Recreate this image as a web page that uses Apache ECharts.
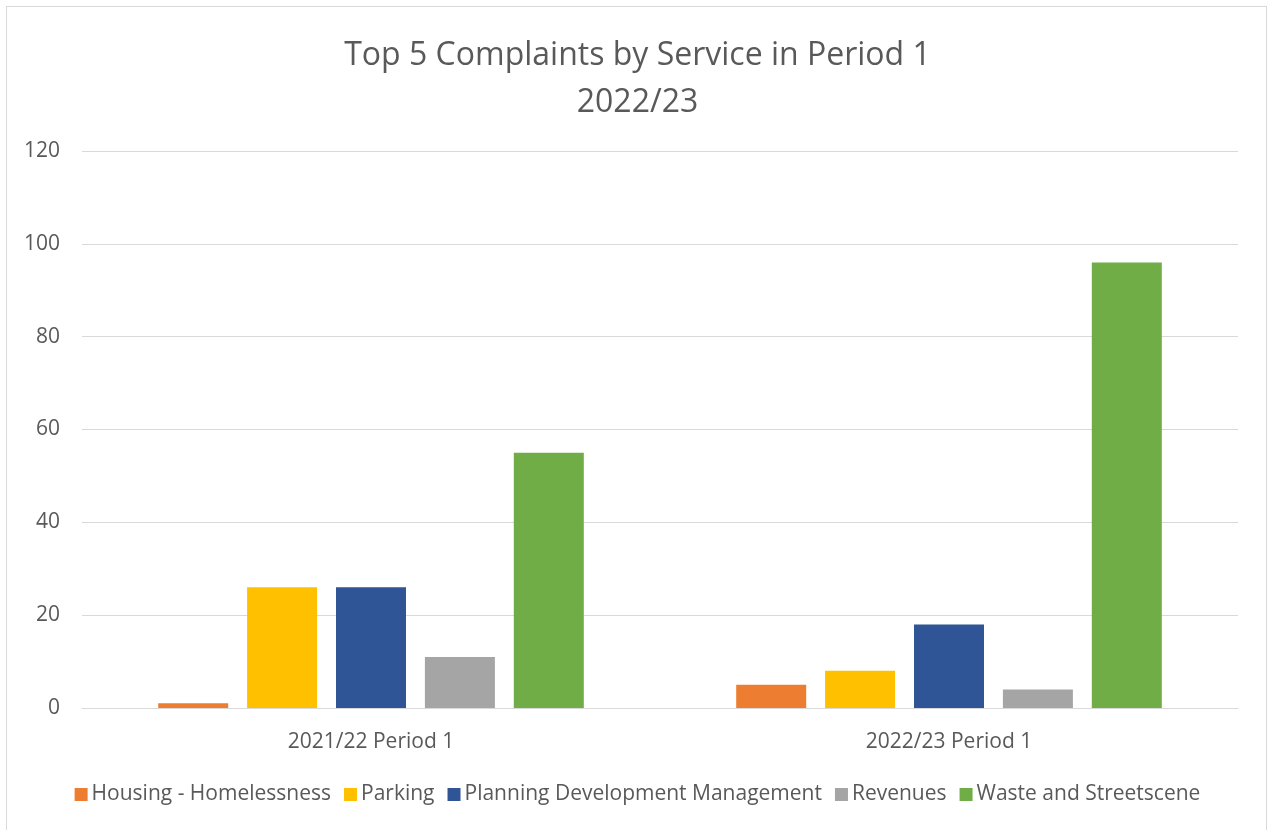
<!DOCTYPE html>
<html>
<head>
<meta charset="utf-8">
<script src="https://cdn.jsdelivr.net/npm/echarts@6/dist/echarts.min.js"></script>
<style>
  html, body { margin: 0; padding: 0; background: #fff; }
  #frame { position: absolute; left: 6px; top: 6px; width: 1261px; height: 830px; border: 1px solid #d9d9d9; box-sizing: border-box; }
  #chart { position: absolute; left: 0; top: 0; width: 1275px; height: 830px; }
</style>
</head>
<body>
<div id="frame"></div>
<div id="chart"></div>
<script>
// periods on the x axis
const periods = ["2021/22 Period 1", "2022/23 Period 1"];
// complaints per service, one value per period
const housing = [1, 5];
const parking = [26, 8];
const planning = [26, 18];
const revenues = [11, 4];
const waste = [55, 96];
const services = ["Housing - Homelessness", "Parking", "Planning Development Management", "Revenues", "Waste and Streetscene"];
const colors = ["#ED7D31", "#FFC000", "#2F5597", "#A5A5A5", "#70AD47"];
const yTicks = { min: 0, max: 120, step: 20 };

const font = "'Open Sans', Lato, sans-serif";
const seriesData = [housing, parking, planning, revenues, waste];

let chart = echarts.init(document.getElementById("chart"));
chart.setOption({
  color: colors,
  textStyle: { fontFamily: font },
  title: {
    text: "Top 5 Complaints by Service in Period 1\n2022/23",
    left: "center",
    top: 27,
    textStyle: { fontFamily: font, fontSize: 32, fontWeight: "normal", color: "#595959", lineHeight: 47 },
  },
  grid: { left: 82, right: 37, top: 151, bottom: 122 },
  legend: {
    bottom: 20,
    left: "center",
    itemWidth: 13,
    itemHeight: 13,
    itemGap: 13,
    icon: "rect",
    textStyle: { fontFamily: font, fontSize: 21, color: "#595959", padding: [0, 0, 0, -1] },
    data: services,
  },
  xAxis: {
    type: "category",
    data: periods,
    axisLine: { lineStyle: { color: "#d9d9d9", width: 1 } },
    axisTick: { show: false },
    axisLabel: { fontSize: 21, color: "#595959", margin: 24 },
  },
  yAxis: {
    type: "value",
    min: yTicks.min,
    max: yTicks.max,
    interval: yTicks.step,
    axisLine: { show: false },
    axisTick: { show: false },
    splitLine: { lineStyle: { color: "#d9d9d9", width: 1 } },
    axisLabel: { fontSize: 21, color: "#595959", margin: 22 },
  },
  series: services.map((name, i) => ({
    name: name,
    type: "bar",
    data: seriesData[i],
    barWidth: 70,
    barGap: "27%",
  })),
});
</script>
</body>
</html>
